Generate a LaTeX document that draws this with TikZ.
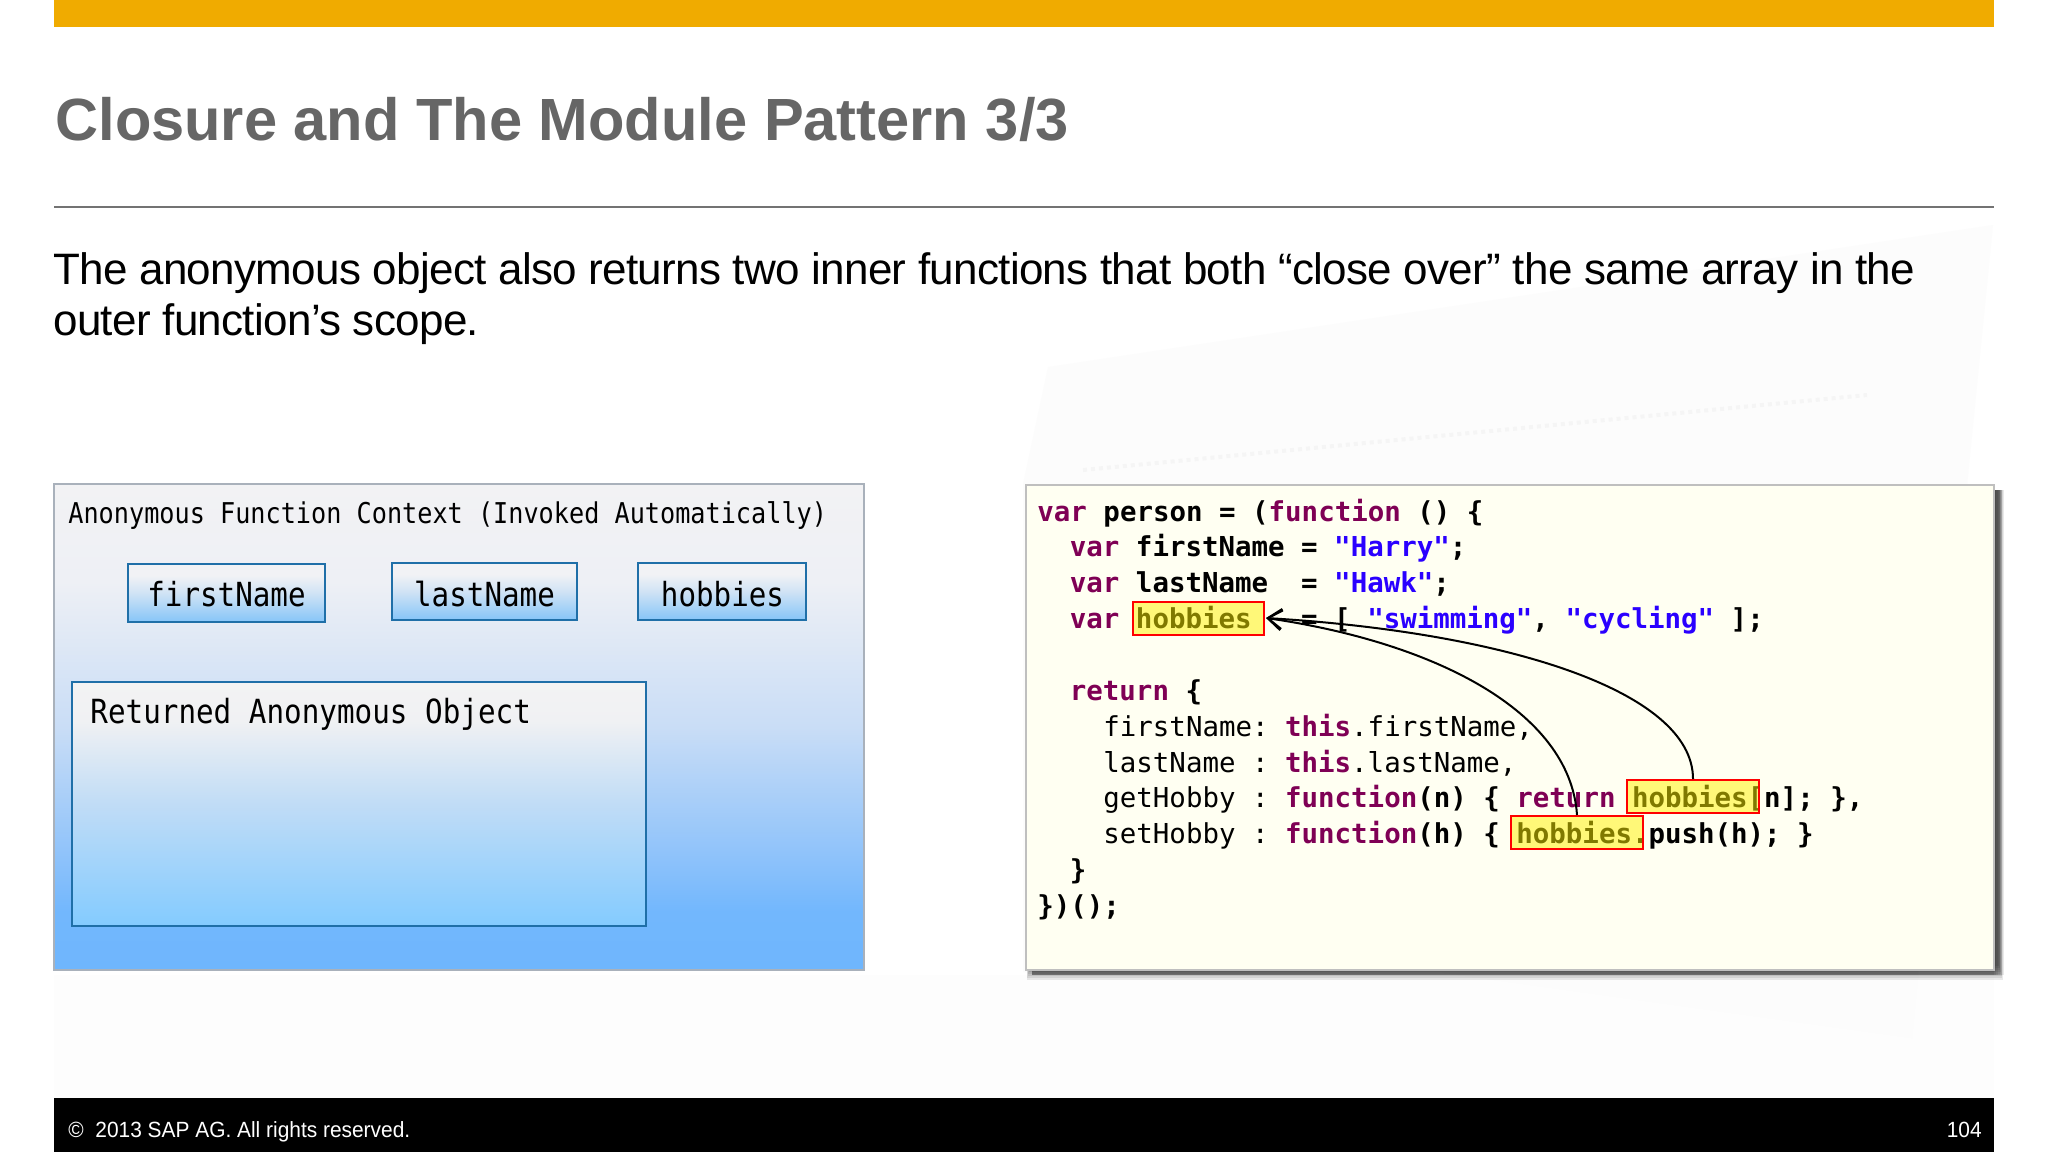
\documentclass[tikz,border=0pt]{standalone}
\usepackage{fontspec}
\usetikzlibrary{arrows.meta,positioning}
\setmainfont{Liberation Sans}
\newfontfamily\bodyfont[LetterSpace=-1.56]{Liberation Sans}
\newfontfamily\footfont[FakeStretch=0.95]{Liberation Sans}
\newfontfamily\codefont{DejaVu Sans Mono}
\newfontfamily\labelfont[FakeStretch=0.88]{DejaVu Sans Mono}
\definecolor{sapgold}{HTML}{F0AB00}
\definecolor{titlegray}{HTML}{666666}
\definecolor{kw}{HTML}{7F0055}
\definecolor{str}{HTML}{2A00FF}
\definecolor{panelline}{HTML}{A9B1BB}
\definecolor{boxline}{HTML}{1F6FA8}
\definecolor{codebg}{HTML}{FFFFF2}
\definecolor{pa}{HTML}{6FB6FD}\definecolor{pb}{HTML}{72B7FD}\definecolor{pc}{HTML}{92C4FA}\definecolor{pd}{HTML}{C9DDF6}\definecolor{pe}{HTML}{EEF0F5}\definecolor{pf}{HTML}{F2F2F4}
\definecolor{ra}{HTML}{83CBFF}\definecolor{rb}{HTML}{C0DCF6}\definecolor{rc}{HTML}{F0F1F3}\definecolor{rd}{HTML}{F3F3F3}
\definecolor{va}{HTML}{86C5F8}\definecolor{vb}{HTML}{D0E3F5}\definecolor{vc}{HTML}{F1F2F5}
\pgfdeclareverticalshading{panelshade}{100bp}{color(0bp)=(pa);color(25bp)=(pa);color(31bp)=(pb);color(37.5bp)=(pc);color(50bp)=(pd);color(65bp)=(pe);color(75bp)=(pf);color(100bp)=(pf)}
\pgfdeclareverticalshading{retshade}{100bp}{color(0bp)=(ra);color(25bp)=(ra);color(50bp)=(rb);color(67bp)=(rc);color(75bp)=(rd);color(100bp)=(rd)}
\pgfdeclareverticalshading{varshade}{100bp}{color(0bp)=(va);color(25bp)=(va);color(50bp)=(vb);color(65bp)=(vc);color(75bp)=(vc);color(100bp)=(vc)}
\newcommand{\K}[1]{\textcolor{kw}{#1}}
\newcommand{\Sx}[1]{\textcolor{str}{#1}}
\tikzset{
  codeline/.style={anchor=base west,inner sep=0pt,font=\codefont\frenchspacing\fontsize{13.72}{16}\selectfont\bfseries},
  codelight/.style={anchor=base west,inner sep=0pt,font=\codefont\frenchspacing\fontsize{13.72}{16}\selectfont},
  varbox/.style={draw=boxline,line width=1pt,inner sep=0pt,anchor=center,shading=varshade},
  varlabel/.style={inner sep=0pt,anchor=center,font=\labelfont\fontsize{16.6}{18}\selectfont},
  mark box/.style={draw=red,line width=1pt,fill=yellow,fill opacity=.5,draw opacity=1,inner sep=0pt,anchor=north west},
  link/.style={black,line width=1pt},
}
\begin{document}
\begin{tikzpicture}[x=.5pt,y=-.5pt]
\useasboundingbox (0,0) rectangle (2048,1152);
\fill[white] (0,0) rectangle (2048,1152);
% faint background
\fill[black!.7] (54,975) rectangle (1994,1098);
\fill[black!1.2] (1048,367) -- (1993,225) -- (1912,1038) -- (1437,972) -- (1023,972) -- (1023,484) -- cycle;
\draw[black!4,line width=2pt,dash pattern=on 2pt off 2pt] (1083,470) -- (1867,395);
% header
\fill[sapgold] (54,0) rectangle (1994,27);
\node[anchor=base west,inner sep=0pt,text=titlegray,font=\bfseries\fontsize{29.8}{34}\selectfont] (title) at (55,140) {Closure and The Module Pattern 3/3};
\draw[black!55,line width=1pt] (54,206.5) -- (1994,206.5);
\node[anchor=base west,inner sep=0pt,font=\bodyfont\fontsize{22}{26}\selectfont] (body1) at (53,284) {The anonymous object also returns two inner functions that both “close over” the same array in the};
\node[anchor=base west,inner sep=0pt,font=\bodyfont\fontsize{22}{26}\selectfont] (body2) at (53,335) {outer function’s scope.};
% left panel
\node[draw=panelline,line width=1pt,anchor=north west,shading=panelshade,inner sep=0pt,minimum width=405pt,minimum height=243pt] (panel) at (53,483) {};
\node[anchor=base west,inner sep=0pt,font=\labelfont\fontsize{14.32}{16}\selectfont] (ctx) at (68,523) {Anonymous Function Context (Invoked Automatically)};
% variable boxes
\node[varbox,minimum width=98.5pt,minimum height=29pt] (fn) at (226.5,593) {};
\node[varbox,minimum width=92.5pt,minimum height=28.5pt] (ln) at (484.5,591.5) {};
\node[varbox,minimum width=84pt,minimum height=28.5pt] (hb) at (722,591.5) {};
\node[varlabel] (fntext) at (226.5,594.5) {firstName};
\node[varlabel] (lntext) at (484.5,594) {lastName};
\node[varlabel] (hbtext) at (722.5,594) {hobbies};
% returned object
\node[draw=boxline,line width=1pt,anchor=north west,minimum width=287pt,minimum height=122pt,inner sep=0pt,shading=retshade] (ret) at (70.5,681) {};
\node[anchor=base west,inner sep=0pt,font=\labelfont\fontsize{16.63}{18}\selectfont] (rettext) at (90,723) {Returned Anonymous Object};
% code panel shadow
\foreach \d in {0,2,...,14}{
  \fill[black,opacity=.085] (1030-\d/4,490) rectangle (1999+\d/4,966+\d);
}
\foreach \d in {0,2,...,10}{
  \fill[black,opacity=.085] (1032,490) rectangle (1994+\d,975);
}
\node[draw=black!25,fill=codebg,line width=1pt,anchor=north west,minimum width=484pt,minimum height=242.5pt,inner sep=0pt] (code) at (1025,484) {};
% code
\node[codeline] (c1) at (1037,521) {\K{var} person = (\K{function} () \{};
\node[codeline] (c2) at (1069.5,556.7) {\K{var} firstName = \Sx{"Harry"};};
\node[codeline] (c3) at (1069.5,592.4) {\K{var} lastName~~= \Sx{"Hawk"};};
\node[codeline] (c4) at (1069.5,628.2) {\K{var} hobbies~~~= [ \Sx{"swimming"}, \Sx{"cycling"} ];};
\node[codeline] (c6) at (1069.5,700.7) {\K{return} \{};
\node[codelight] (c7) at (1103,736.4) {firstName: \textbf{\K{this}}.firstName,};
\node[codelight] (c8) at (1103,772.1) {lastName~: \textbf{\K{this}}.lastName,};
\node[codelight] (c9) at (1103,807.9) {getHobby : \textbf{\K{function}(n) \{ \K{return} hobbies[n]; \},}};
\node[codelight] (c10) at (1103,843.6) {setHobby : \textbf{\K{function}(h) \{ hobbies.push(h); \}}};
\node[codeline] (c11) at (1069.5,879.4) {\}};
\node[codeline] (c12) at (1037,915.1) {\})();};
% highlights
\node[mark box,minimum width=65.5pt,minimum height=16.5pt] (m1) at (1132,600.5) {};
\node[mark box,minimum width=66pt,minimum height=16.5pt] (m2) at (1626,779) {};
\node[mark box,minimum width=66pt,minimum height=16.5pt] (m3) at (1510,815) {};
% connectors
\draw[link,-{Straight Barb[length=7pt,width=10pt]}] (m2.north) .. controls +(0,-89) and +(236,14) .. ([xshift=.5pt]m1.east);
\draw[link,-{Straight Barb[length=7pt,width=10pt]}] (m3.north) .. controls +(-7,-105) and +(166,24) .. ([xshift=.5pt]m1.east);
% footer
\fill[black] (54,1098) rectangle (1994,1152);
\node[anchor=base west,inner sep=0pt,text=white,font=\footfont\fontsize{11}{13}\selectfont] (copy) at (68,1137) {©\ \ 2013 SAP AG. All rights reserved.};
\node[anchor=base east,inner sep=0pt,text=white,font=\footfont\fontsize{11}{13}\selectfont] (page) at (1982,1137) {104};
\end{tikzpicture}
\end{document}
